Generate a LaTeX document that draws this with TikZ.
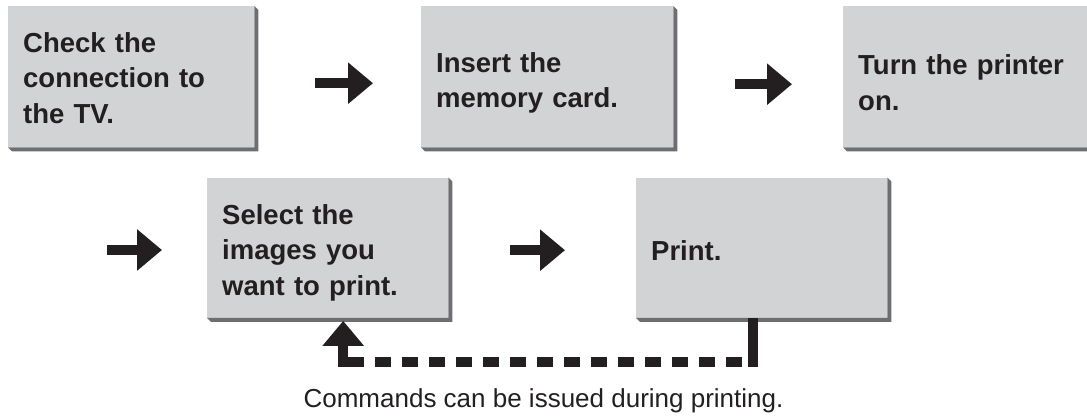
\documentclass[tikz,border=0pt]{standalone}
\usepackage{fontspec}
\setmainfont{Liberation Sans}
\usetikzlibrary{arrows.meta}
\definecolor{ink}{HTML}{231F20}
\definecolor{boxgray}{HTML}{D1D3D4}
\definecolor{shadegray}{HTML}{6D6E71}
\tikzset{
  stepbox/.style={fill=boxgray, text=ink, anchor=north west, minimum height=141pt,
    inner xsep=15pt, inner ysep=0pt, align=left, text height=22pt,
    font=\bfseries\fontsize{27.5}{35.5}\selectfont},
  flowarrow/.style={draw=ink, line width=10pt, -{Triangle[width=40pt,length=25pt]}},
  feedline/.style={draw=ink, line width=10pt},
}
\newcommand\boxshade[1]{\fill[shadegray] (#1.north east) -- ++(4,4) -- ([shift={(4,4)}]#1.south east) -- ([shift={(4,4)}]#1.south west) -- (#1.south west) -- (#1.south east) -- cycle;}

\begin{document}
\begin{tikzpicture}[x=1pt,y=-1pt]
			%%%%% FRAME %%%%%
			\useasboundingbox (0,0) rectangle (1087,417);
			\clip (0,0) rectangle (1087,417);
			
			%%%%% STEPS %%%%%
			\node[stepbox, text width=216pt] (check) at (8,6) {Check the\\connection to\\the TV.};
			\node[stepbox, text width=222pt, text height=32pt] (insert) at (421,6) {Insert the\\memory card.};
			\node[stepbox, text width=230pt, text height=32pt] (turnon) at (843,6) {Turn the printer\\on.};
			\node[stepbox, text width=211pt, text height=30pt, minimum height=140pt] (select) at (207,177.5) {Select the\\images you\\want to print.};
			\node[stepbox, text width=221pt, text height=26pt, minimum height=140pt] (print) at (636,177.5) {Print.};
			\foreach \b in {check,insert,turnon,select,print} {\boxshade{\b}}
			
			%%%%% ARROWS %%%%%
			\draw[flowarrow, shorten <=61pt, shorten >=48pt] ([yshift=-6.5pt]check.east) -- ([yshift=-6.5pt]insert.west);
			\draw[flowarrow, shorten <=62pt, shorten >=51pt] ([yshift=-7.5pt]insert.east) -- ([yshift=-7.5pt]turnon.west);
			\coordinate (wrapin) at (107,250);
			\draw[flowarrow, shorten >=45pt] (wrapin) -- (wrapin -| select.west);
			\draw[flowarrow, shorten <=62pt, shorten >=71pt] ([yshift=-2.5pt]select.east) -- ([yshift=-2.5pt]select.east -| print.west);
			
			%%%%% FEEDBACK %%%%%
			\coordinate (fbR) at ([xshift=-8.5pt]print.south |- 0,362);
			\coordinate (fbL) at ([xshift=15.5pt]select.south |- 0,362);
			\draw[feedline] ([xshift=-8.5pt]print.south) -- ([yshift=-5pt]fbR);
			\draw[feedline, dash pattern=on 16pt off 11pt] ([xshift=5pt]fbL) -- ([xshift=-5pt]fbR);
			\draw[flowarrow] ([yshift=-5pt]fbL) -- ([xshift=15.5pt,yshift=-3pt]select.south);
			
			\node[text=ink, anchor=base, font=\fontsize{26}{30}\selectfont] (note) at (543.5,407) {Commands can be issued during printing.};
			
			%%%%% END %%%%%
\end{tikzpicture}
\end{document}
